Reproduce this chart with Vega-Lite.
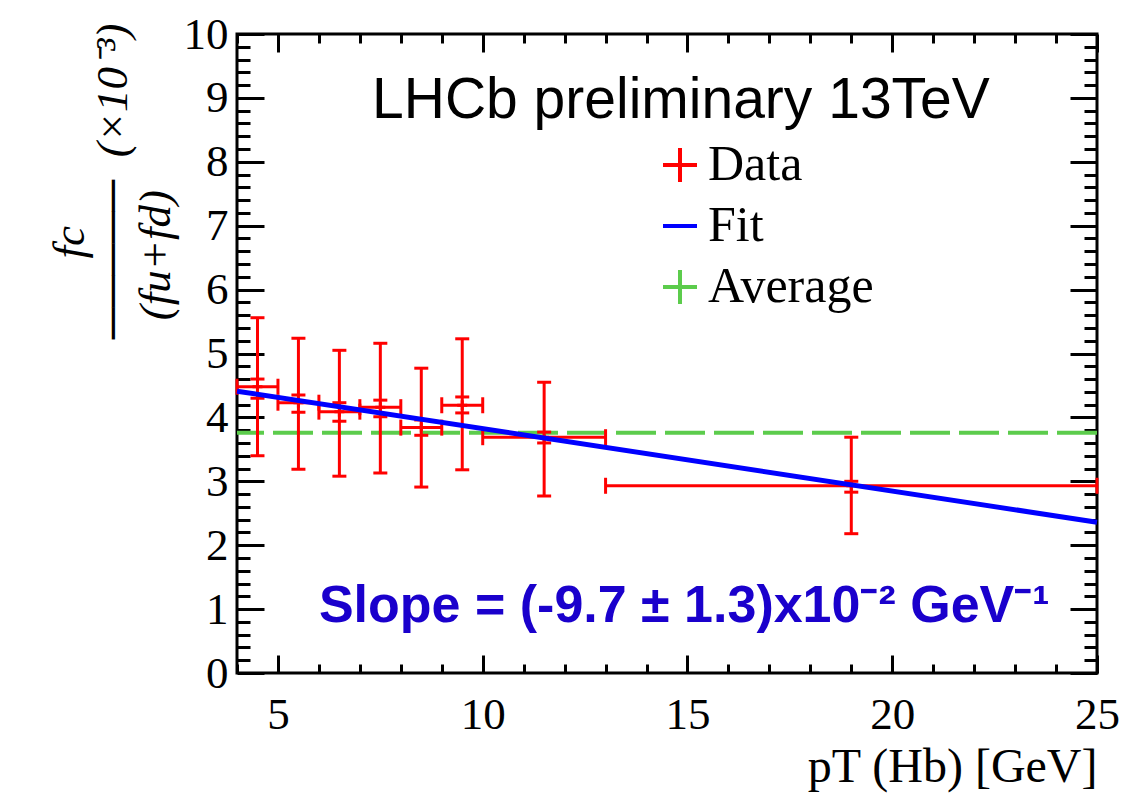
{
  "$schema": "https://vega.github.io/schema/vega-lite/v6.json",
  "width": 860,
  "height": 639,
  "autosize": {"type": "none"},
  "padding": {"left": 237, "top": 34, "right": 46, "bottom": 121},
  "background": "white",
  "config": {
    "view": {"stroke": "black", "strokeWidth": 3},
    "axis": {"grid": false, "domain": false}
  },
  "datasets": {
    "pts": [
      {"series": "Data", "pt": 4.5, "xlo": 4, "xhi": 5, "y": 4.48, "slo": 4.30, "shi": 4.60, "lo": 3.40, "hi": 5.56},
      {"series": "Data", "pt": 5.5, "xlo": 5, "xhi": 6, "y": 4.23, "slo": 4.08, "shi": 4.35, "lo": 3.19, "hi": 5.24},
      {"series": "Data", "pt": 6.5, "xlo": 6, "xhi": 7, "y": 4.09, "slo": 3.94, "shi": 4.23, "lo": 3.08, "hi": 5.05},
      {"series": "Data", "pt": 7.5, "xlo": 7, "xhi": 8, "y": 4.16, "slo": 4.01, "shi": 4.27, "lo": 3.13, "hi": 5.16},
      {"series": "Data", "pt": 8.5, "xlo": 8, "xhi": 9, "y": 3.84, "slo": 3.72, "shi": 3.96, "lo": 2.91, "hi": 4.77},
      {"series": "Data", "pt": 9.5, "xlo": 9, "xhi": 10, "y": 4.19, "slo": 4.07, "shi": 4.32, "lo": 3.18, "hi": 5.23},
      {"series": "Data", "pt": 11.5, "xlo": 10, "xhi": 13, "y": 3.69, "slo": 3.60, "shi": 3.77, "lo": 2.77, "hi": 4.55},
      {"series": "Data", "pt": 19, "xlo": 13, "xhi": 25, "y": 2.93, "slo": 2.83, "shi": 3.00, "lo": 2.18, "hi": 3.69}
    ],
    "fit": [
      {"series": "Fit", "pt": 4, "y": 4.41},
      {"series": "Fit", "pt": 25, "y": 2.36}
    ],
    "avg": [
      {"series": "Average", "y": 3.76}
    ]
  },
  "layer": [
    {
      "data": {"name": "pts"},
      "mark": {"type": "point", "filled": false, "strokeWidth": 3, "size": 100, "opacity": 1},
      "encoding": {
        "x": {"field": "pt", "type": "quantitative", "scale": {"domain": [4, 25], "nice": false, "zero": false},
          "axis": {"orient": "top", "values": [4,5,6,7,8,9,10,11,12,13,14,15,16,17,18,19,20,21,22,23,24,25],
            "labels": false, "title": null, "tickColor": "black", "tickWidth": 3,
            "tickSize": {"condition": {"test": "datum.value % 5 === 0", "value": -18}, "value": -9}}},
        "y": {"field": "y", "type": "quantitative", "scale": {"domain": [0, 10], "nice": false, "zero": false}, "axis": null},
        "color": {"field": "series", "type": "nominal",
          "scale": {"domain": ["Data", "Fit", "Average"], "range": ["#ff0000", "#0000ff", "#5ccc4c"]},
          "legend": {"orient": "none", "legendX": 418, "legendY": 106, "title": null, "padding": 0,
            "symbolSize": 1156, "symbolStrokeWidth": 4, "symbolFillColor": "transparent",
            "labelFont": "Liberation Serif", "labelFontSize": 50, "labelColor": "black",
            "labelOffset": 3, "rowPadding": 11, "labelLimit": 0}},
        "shape": {"field": "series", "type": "nominal",
          "scale": {"domain": ["Data", "Fit", "Average"], "range": ["M-1,0H1M0,-1V1", "M-1,0H1", "M-1,0H1M0,-1V1"]},
          "legend": {"orient": "none", "legendX": 418, "legendY": 106, "title": null, "padding": 0,
            "symbolSize": 1156, "symbolStrokeWidth": 4, "symbolFillColor": "transparent",
            "labelFont": "Liberation Serif", "labelFontSize": 50, "labelColor": "black",
            "labelOffset": 3, "rowPadding": 11, "labelLimit": 0}}
      }
    },
    {
      "data": {"name": "avg"},
      "mark": {"type": "rule", "strokeWidth": 4, "strokeDash": [40, 9], "color": "#5ccc4c"},
      "encoding": {
        "y": {"field": "y", "type": "quantitative", "scale": {"domain": [0, 10], "nice": false, "zero": false},
          "axis": {"orient": "right", "values": [0,0.2,0.4,0.6,0.8,1,1.2,1.4,1.6,1.8,2,2.2,2.4,2.6,2.8,3,3.2,3.4,3.6,3.8,4,4.2,4.4,4.6,4.8,5,5.2,5.4,5.6,5.8,6,6.2,6.4,6.6,6.8,7,7.2,7.4,7.6,7.8,8,8.2,8.4,8.6,8.8,9,9.2,9.4,9.6,9.8,10],
            "labels": false, "title": null, "tickColor": "black", "tickWidth": 3,
            "tickSize": {"condition": {"test": "abs(datum.value - round(datum.value)) < 0.01", "value": -27}, "value": -13}}}
      }
    },
    {
      "data": {"name": "pts"},
      "mark": {"type": "rule", "strokeWidth": 3, "color": "#ff0000"},
      "encoding": {
        "x": {"field": "pt", "type": "quantitative", "scale": {"domain": [4, 25], "nice": false, "zero": false},
          "axis": {"orient": "bottom", "values": [4,5,6,7,8,9,10,11,12,13,14,15,16,17,18,19,20,21,22,23,24,25],
            "labelExpr": "datum.value % 5 === 0 ? datum.label : ''",
            "labelFont": "Liberation Serif", "labelFontSize": 45, "labelColor": "black", "labelPadding": 37,
            "labelFlush": false, "labelOverlap": false,
            "tickColor": "black", "tickWidth": 3,
            "tickSize": {"condition": {"test": "datum.value % 5 === 0", "value": -18}, "value": -9},
            "title": "pT (Hb) [GeV]", "titleFont": "Liberation Serif", "titleFontSize": 48, "titleFontWeight": "normal",
            "titleColor": "black", "titleAnchor": "end", "titleAlign": "right", "titleBaseline": "alphabetic",
            "titleX": 860, "titleY": 108}},
        "y": {"field": "lo", "type": "quantitative", "scale": {"domain": [0, 10], "nice": false, "zero": false},
          "axis": {"orient": "left", "values": [0,0.2,0.4,0.6,0.8,1,1.2,1.4,1.6,1.8,2,2.2,2.4,2.6,2.8,3,3.2,3.4,3.6,3.8,4,4.2,4.4,4.6,4.8,5,5.2,5.4,5.6,5.8,6,6.2,6.4,6.6,6.8,7,7.2,7.4,7.6,7.8,8,8.2,8.4,8.6,8.8,9,9.2,9.4,9.6,9.8,10],
            "labelExpr": "abs(datum.value - round(datum.value)) < 0.01 ? format(datum.value, 'd') : ''",
            "labelFont": "Liberation Serif", "labelFontSize": 45, "labelColor": "black", "labelPadding": 36,
            "labelFlush": false, "labelOverlap": false,
            "tickColor": "black", "tickWidth": 3,
            "tickSize": {"condition": {"test": "abs(datum.value - round(datum.value)) < 0.01", "value": -27}, "value": -13},
            "title": ["fc\u2003\u2003\u2003\u2003\u2002\u200b", "\u2500\u2500\u2500\u2500\u2500\u2002(\u00d710\u207b\u00b3)", "(fu+fd)\u2003\u2003\u2003\u2002\u2009\u200b"],
            "titleFont": "Liberation Serif", "titleFontSize": 45, "titleFontWeight": "normal", "titleFontStyle": "italic",
            "titleColor": "black", "titleAngle": -90, "titleAlign": "right", "titleBaseline": "middle",
            "titleLineHeight": 43, "titleX": -168, "titleY": -11}},
        "y2": {"field": "hi"}
      }
    },
    {
      "data": {"name": "pts"},
      "mark": {"type": "rule", "strokeWidth": 3, "color": "#ff0000"},
      "encoding": {
        "x": {"field": "xlo", "type": "quantitative", "scale": {"domain": [4, 25], "nice": false, "zero": false}, "axis": null},
        "x2": {"field": "xhi"},
        "y": {"field": "y", "type": "quantitative", "scale": {"domain": [0, 10], "nice": false, "zero": false}, "axis": null}
      }
    },
    {
      "data": {"name": "pts"},
      "transform": [{"fold": ["lo", "hi", "slo", "shi"], "as": ["k", "v"]}],
      "mark": {"type": "tick", "orient": "horizontal", "size": 14, "thickness": 3, "opacity": 1, "color": "#ff0000"},
      "encoding": {
        "x": {"field": "pt", "type": "quantitative", "scale": {"domain": [4, 25], "nice": false, "zero": false}, "axis": null},
        "y": {"field": "v", "type": "quantitative", "scale": {"domain": [0, 10], "nice": false, "zero": false}, "axis": null}
      }
    },
    {
      "data": {"name": "pts"},
      "transform": [{"fold": ["xlo", "xhi"], "as": ["k", "v"]}],
      "mark": {"type": "tick", "orient": "vertical", "size": 16, "thickness": 3, "opacity": 1, "color": "#ff0000"},
      "encoding": {
        "x": {"field": "v", "type": "quantitative", "scale": {"domain": [4, 25], "nice": false, "zero": false}, "axis": null},
        "y": {"field": "y", "type": "quantitative", "scale": {"domain": [0, 10], "nice": false, "zero": false}, "axis": null}
      }
    },
    {
      "data": {"name": "fit"},
      "mark": {"type": "line", "strokeWidth": 5, "color": "#0000ff"},
      "encoding": {
        "x": {"field": "pt", "type": "quantitative", "scale": {"domain": [4, 25], "nice": false, "zero": false}, "axis": null},
        "y": {"field": "y", "type": "quantitative", "scale": {"domain": [0, 10], "nice": false, "zero": false}, "axis": null}
      }
    },
    {
      "data": {"values": [{}]},
      "mark": {"type": "text", "text": "LHCb preliminary 13TeV", "font": "Liberation Sans", "fontSize": 57,
        "align": "center", "baseline": "alphabetic", "color": "black"},
      "encoding": {
        "x": {"datum": 14.84, "type": "quantitative", "scale": {"domain": [4, 25], "nice": false, "zero": false}, "axis": null},
        "y": {"datum": 8.69, "type": "quantitative", "scale": {"domain": [0, 10], "nice": false, "zero": false}, "axis": null}
      }
    },
    {
      "data": {"values": [{}]},
      "mark": {"type": "text", "text": "Slope = (-9.7 \u00b1 1.3)x10\u207b\u00b2 GeV\u207b\u00b9", "font": "Liberation Sans", "fontSize": 52,
        "fontWeight": "bold", "align": "left", "baseline": "alphabetic", "color": "#1a00cc"},
      "encoding": {
        "x": {"datum": 6.0, "type": "quantitative", "scale": {"domain": [4, 25], "nice": false, "zero": false}, "axis": null},
        "y": {"datum": 0.80, "type": "quantitative", "scale": {"domain": [0, 10], "nice": false, "zero": false}, "axis": null}
      }
    }
  ],
  "resolve": {"axis": {"x": "independent", "y": "independent"}}
}
